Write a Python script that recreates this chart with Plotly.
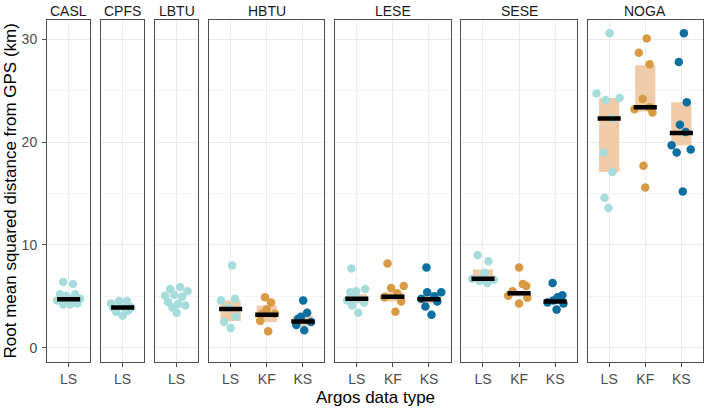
import plotly.graph_objects as go
from plotly.subplots import make_subplots

# ---------------- data ----------------
species = ["CASL", "CPFS", "LBTU", "HBTU", "LESE", "SESE", "NOGA"]
type_sets = [["LS"], ["LS"], ["LS"], ["LS", "KF", "KS"], ["LS", "KF", "KS"],
             ["LS", "KF", "KS"], ["LS", "KF", "KS"]]
type_colors = {"LS": "#a6dcdc", "KF": "#d89a42", "KS": "#0c6fa0"}
box_fill = "#f0cbaa"

# RMSD values (km) and horizontal jitter (category units)
casl_ls = [6.4, 6.2, 5.2, 5.2, 4.6, 4.75, 4.2, 4.2, 4.3, 5.05]
casl_ls_jit = [-0.15, 0.12, -0.24, 0.18, -0.32, 0.32, -0.15, 0.04, 0.24, -0.07]

cpfs_ls = [4.3, 4.55, 4.55, 3.9, 3.9, 3.9, 3.5, 3.1, 3.6]
cpfs_ls_jit = [-0.32, -0.1, 0.12, -0.27, 0.04, 0.24, -0.18, 0.0, 0.15]

lbtu_ls = [5.7, 5.9, 5.5, 5.05, 5.15, 4.95, 4.45, 4.25, 4.1, 3.9, 3.4]
lbtu_ls_jit = [-0.18, 0.1, 0.3, -0.32, -0.07, 0.15, -0.24, 0.04, 0.24, -0.12, 0.0]

hbtu_ls = [8.0, 4.6, 4.75, 2.5, 1.9, 3.0, 3.9]
hbtu_ls_jit = [0.04, -0.27, 0.12, -0.18, 0.0, 0.15, -0.05]
hbtu_kf = [4.9, 4.4, 3.3, 3.3, 1.6, 2.6, 3.7]
hbtu_kf_jit = [-0.05, 0.12, -0.13, 0.23, 0.04, -0.18, 0.0]
hbtu_ks = [4.6, 3.4, 2.8, 2.2, 1.7, 2.5, 3.0]
hbtu_ks_jit = [0.01, 0.12, -0.13, -0.18, 0.04, 0.23, -0.05]

lese_ls = [7.7, 5.4, 5.5, 5.7, 4.6, 4.1, 3.4, 4.4, 4.8]
lese_ls_jit = [-0.15, -0.18, -0.02, 0.23, -0.27, -0.13, 0.04, 0.2, 0.0]
lese_kf = [8.2, 5.8, 6.0, 4.9, 4.5, 3.5, 5.3]
lese_kf_jit = [-0.15, -0.05, 0.3, -0.24, 0.23, 0.07, 0.12]
lese_ks = [7.8, 5.4, 5.4, 4.75, 5.0, 4.0, 3.2, 4.5]
lese_ks_jit = [-0.07, -0.05, 0.34, -0.21, 0.15, -0.1, 0.07, 0.23]

sese_ls = [9.0, 8.4, 7.3, 6.7, 6.6, 6.5, 6.3, 6.7]
sese_ls_jit = [-0.15, 0.15, 0.05, -0.3, 0.3, -0.1, 0.12, 0.0]
sese_kf = [7.8, 6.2, 6.0, 5.05, 4.85, 4.3, 5.5]
sese_kf_jit = [0.0, 0.1, 0.2, -0.3, 0.23, 0.0, -0.18]
sese_ks = [6.3, 4.9, 5.1, 4.4, 4.3, 3.7, 4.6]
sese_ks_jit = [-0.07, 0.07, 0.2, -0.21, 0.23, 0.04, -0.05]

noga_ls = [30.6, 24.75, 24.1, 24.3, 22.3, 19.0, 17.1, 14.6, 13.6]
noga_ls_jit = [0.01, -0.35, -0.1, 0.29, 0.07, -0.16, 0.09, -0.13, -0.02]
noga_kf = [30.1, 28.7, 27.6, 24.2, 23.2, 23.4, 22.9, 17.7, 15.6]
noga_kf_jit = [0.04, -0.18, 0.12, -0.07, -0.3, 0.12, 0.2, -0.05, 0.0]
noga_ks = [30.6, 27.8, 23.9, 21.7, 21.0, 19.7, 19.0, 19.3, 15.2]
noga_ks_jit = [0.07, -0.07, 0.15, -0.04, 0.12, -0.27, -0.13, 0.26, 0.04]

# summary boxes (low, high, middle) per group
box_low = {"CASL LS": 4.4, "CPFS LS": 3.75,
           "HBTU LS": 2.6, "HBTU KF": 2.5, "HBTU KS": 2.1,
           "LESE LS": 4.3, "LESE KF": 4.5, "LESE KS": 4.3,
           "SESE LS": 6.5, "SESE KF": 5.0, "SESE KS": 4.3,
           "NOGA LS": 17.1, "NOGA KF": 23.0, "NOGA KS": 19.7}
box_high = {"CASL LS": 5.1, "CPFS LS": 4.05,
            "HBTU LS": 4.6, "HBTU KF": 4.1, "HBTU KS": 3.1,
            "LESE LS": 5.2, "LESE KF": 5.4, "LESE KS": 5.1,
            "SESE LS": 7.6, "SESE KF": 5.5, "SESE KS": 4.8,
            "NOGA LS": 24.3, "NOGA KF": 27.5, "NOGA KS": 23.9}
box_mid = {"CASL LS": 4.7, "CPFS LS": 3.9,
           "HBTU LS": 3.75, "HBTU KF": 3.2, "HBTU KS": 2.55,
           "LESE LS": 4.75, "LESE KF": 4.95, "LESE KS": 4.7,
           "SESE LS": 6.7, "SESE KF": 5.3, "SESE KS": 4.5,
           "NOGA LS": 22.3, "NOGA KF": 23.4, "NOGA KS": 20.9}

groups = {
    "CASL LS": (casl_ls, casl_ls_jit), "CPFS LS": (cpfs_ls, cpfs_ls_jit),
    "LBTU LS": (lbtu_ls, lbtu_ls_jit),
    "HBTU LS": (hbtu_ls, hbtu_ls_jit), "HBTU KF": (hbtu_kf, hbtu_kf_jit),
    "HBTU KS": (hbtu_ks, hbtu_ks_jit),
    "LESE LS": (lese_ls, lese_ls_jit), "LESE KF": (lese_kf, lese_kf_jit),
    "LESE KS": (lese_ks, lese_ks_jit),
    "SESE LS": (sese_ls, sese_ls_jit), "SESE KF": (sese_kf, sese_kf_jit),
    "SESE KS": (sese_ks, sese_ks_jit),
    "NOGA LS": (noga_ls, noga_ls_jit), "NOGA KF": (noga_kf, noga_kf_jit),
    "NOGA KS": (noga_ks, noga_ks_jit),
}

y_ticks = [0, 10, 20, 30]

# ---------------- figure ----------------
col_widths = [len(t) + 0.2 for t in type_sets]
fig = make_subplots(rows=1, cols=len(species), shared_yaxes=True,
                    column_widths=col_widths, horizontal_spacing=0.0163)

FONT = "Liberation Sans, Arial, sans-serif"

for ci, (sp, types) in enumerate(zip(species, type_sets), start=1):
    # boxes
    for ti, t in enumerate(types, start=1):
        key = f"{sp} {t}"
        if key in box_low:
            fig.add_trace(go.Bar(x=[ti], y=[box_high[key] - box_low[key]],
                                 base=[box_low[key]], width=0.56,
                                 marker=dict(color=box_fill, line=dict(width=0)),
                                 hoverinfo="skip"), row=1, col=ci)
    # points
    for ti, t in enumerate(types, start=1):
        key = f"{sp} {t}"
        vals, jit = groups[key]
        fig.add_trace(go.Scatter(x=[ti + j for j in jit], y=vals, mode="markers",
                                 marker=dict(size=8.5, color=type_colors[t],
                                             line=dict(width=0)),
                                 name=t), row=1, col=ci)
    # medians
    for ti, t in enumerate(types, start=1):
        key = f"{sp} {t}"
        if key in box_mid:
            fig.add_trace(go.Scatter(x=[ti - 0.32, ti + 0.32],
                                     y=[box_mid[key], box_mid[key]],
                                     mode="lines",
                                     line=dict(color="black", width=4.5),
                                     hoverinfo="skip"), row=1, col=ci)
    fig.update_xaxes(row=1, col=ci, range=[0.4, len(types) + 0.6],
                     tickmode="array", tickvals=list(range(1, len(types) + 1)),
                     ticktext=types, showgrid=True, gridcolor="#ebebeb",
                     gridwidth=1, zeroline=False, showline=True, mirror=True,
                     linecolor="#4d4d4d", linewidth=1, ticks="outside",
                     ticklen=4, tickcolor="#4d4d4d",
                     tickfont=dict(size=14, color="#4d4d4d", family=FONT))
    fig.update_yaxes(row=1, col=ci, range=[-1.4, 31.9], tickmode="array",
                     tickvals=y_ticks, showgrid=True, gridcolor="#ebebeb",
                     gridwidth=1, zeroline=False, showline=True, mirror=True,
                     linecolor="#4d4d4d", linewidth=1,
                     minor=dict(tickvals=[5, 15, 25], showgrid=True,
                                gridcolor="#f4f4f4", gridwidth=0.6),
                     ticks="outside" if ci == 1 else "", ticklen=4,
                     tickcolor="#4d4d4d", ticklabelstandoff=2,
                     tickfont=dict(size=14, color="#4d4d4d", family=FONT))
    # strip title
    xa = "x domain" if ci == 1 else f"x{ci} domain"
    fig.add_annotation(text=sp, xref=xa, yref="paper", x=0.5, y=1.0,
                       yanchor="bottom", showarrow=False, yshift=-1,
                       font=dict(size=14, color="#1a1a1a", family=FONT))

fig.add_annotation(text="Argos data type", xref="paper", yref="paper",
                   x=0.5, y=0, yanchor="top", yshift=-24, showarrow=False,
                   font=dict(size=17, color="black", family=FONT))
fig.add_annotation(text="Root mean squared distance from GPS (km)",
                   xref="paper", yref="paper", x=0, y=0.5, xanchor="right",
                   xshift=-26, textangle=-90, showarrow=False,
                   font=dict(size=17, color="black", family=FONT))

fig.update_layout(width=706, height=408, showlegend=False,
                  margin=dict(l=47, r=3, t=20, b=46),
                  plot_bgcolor="white", paper_bgcolor="white",
                  barmode="overlay", font=dict(family=FONT))

fig.write_html("out.html", config={"displayModeBar": False})

# remove the default page margin so the figure sits at the window's corner
with open("out.html", encoding="utf-8") as f:
    html = f.read()
html = html.replace("<body>", '<body style="margin:0;padding:0;overflow:hidden">', 1)
with open("out.html", "w", encoding="utf-8") as f:
    f.write(html)
